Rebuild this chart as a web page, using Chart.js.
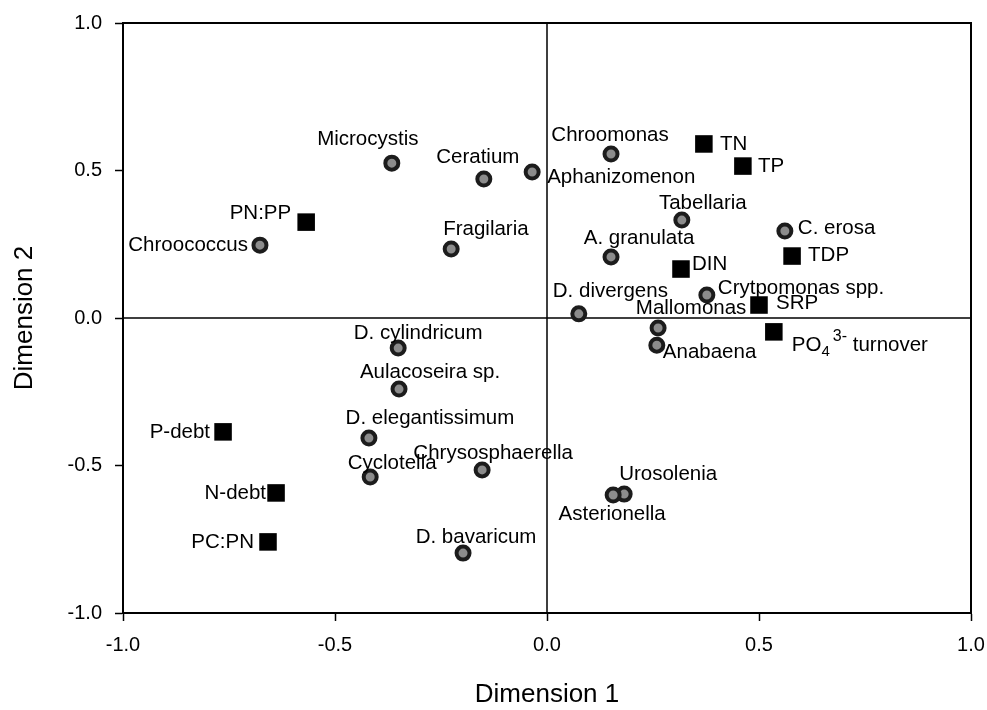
<!DOCTYPE html>
<html>
<head>
<meta charset="utf-8">
<title>Dimension 1 vs Dimension 2</title>
<script src="https://cdn.jsdelivr.net/npm/chart.js@4.4.1/dist/chart.umd.min.js"></script>
<style>
  body { margin: 0; background: #fff; }
  canvas { display: block; }
</style>
</head>
<body>
<canvas id="ordination" width="987" height="710"></canvas>
<script>
// taxa (grey circles)
const taxaNames = ['Microcystis', 'Ceratium', 'Aphanizomenon', 'Chroococcus', 'Fragilaria',
  'Chroomonas', 'Tabellaria', 'C. erosa', 'A. granulata', 'Crytpomonas spp.', 'D. divergens',
  'Mallomonas', 'Anabaena', 'D. cylindricum', 'Aulacoseira sp.', 'D. elegantissimum',
  'Cyclotella', 'Chrysosphaerella', 'D. bavaricum', 'Urosolenia', 'Asterionella'];
const taxaX = [-0.366, -0.149, -0.035, -0.677, -0.226, 0.151, 0.318, 0.561, 0.151, 0.377, 0.075,
  0.262, 0.259, -0.351, -0.349, -0.420, -0.417, -0.153, -0.198, 0.182, 0.156];
const taxaY = [0.525, 0.471, 0.495, 0.247, 0.234, 0.556, 0.332, 0.295, 0.207, 0.078, 0.014,
  -0.034, -0.092, -0.102, -0.241, -0.407, -0.539, -0.515, -0.797, -0.597, -0.600];

// environmental variables (black squares)
// "_x" = subscript, "^xx" = superscript
const envNames = ['TN', 'TP', 'PN:PP', 'TDP', 'DIN', 'SRP', 'PO_4^3- turnover', 'P-debt', 'N-debt', 'PC:PN'];
const envX = [0.370, 0.462, -0.568, 0.578, 0.316, 0.500, 0.535, -0.764, -0.639, -0.658];
const envY = [0.590, 0.515, 0.325, 0.210, 0.166, 0.044, -0.047, -0.386, -0.593, -0.759];

const axisTicks = [-1.0, -0.5, 0.0, 0.5, 1.0];

// where each label sits relative to its marker: [dx, dy, align]
const taxaLabelPos = [[-24, -24, 'center'], [-6, -22, 'center'], [15, 5, 'left'], [-12, 0, 'right'],
  [-8, -20, 'left'], [-1, -19, 'center'], [21, -17, 'center'], [13, -3, 'left'], [28, -19, 'center'],
  [11, -7, 'left'], [-26, -23, 'left'], [33, -20, 'center'], [6, 7, 'left'], [20, -15, 'center'],
  [31, -17, 'center'], [61, -20, 'center'], [22, -14, 'center'], [11, -17, 'center'],
  [13, -16, 'center'], [44, -20, 'center'], [-1, 19, 'center']];
const envLabelPos = [[16, 0, 'left'], [15, 0, 'left'], [-15, -9, 'right'], [16, -1, 'left'],
  [11, -5, 'left'], [17, -2, 'left'], [18, 13, 'left'], [-13, 0, 'right'], [-10, 0, 'right'],
  [-14, 0, 'right']];

const FONT = "'Liberation Sans', Arial, Helvetica, sans-serif";
Chart.defaults.font.family = FONT;
Chart.defaults.color = '#000';

// draws text, with simple sub/superscript support
function drawLabel(ctx, text, x, y, align) {
  const parts = [];
  const re = /_(\S)|\^(\S+)/g;
  let last = 0, m;
  while ((m = re.exec(text)) !== null) {
    if (m.index > last) parts.push({ t: text.slice(last, m.index), kind: 0 });
    if (m[1]) parts.push({ t: m[1], kind: 1 });
    else parts.push({ t: m[2], kind: -1 });
    last = re.lastIndex;
  }
  if (last < text.length) parts.push({ t: text.slice(last), kind: 0 });

  ctx.textBaseline = 'middle';
  if (parts.length === 1) {
    ctx.font = '20.5px ' + FONT;
    ctx.textAlign = align;
    ctx.fillText(text, x, y);
    return;
  }
  ctx.textAlign = 'left';
  let cx = x;
  parts.forEach(p => {
    if (p.kind === 0) {
      ctx.font = '20.5px ' + FONT;
      ctx.fillText(p.t, cx, y);
    } else if (p.kind === 1) {
      ctx.font = '15px ' + FONT;
      ctx.fillText(p.t, cx, y + 7);
    } else {
      cx += 3;
      ctx.font = '16px ' + FONT;
      ctx.fillText(p.t, cx, y - 8);
    }
    cx += ctx.measureText(p.t).width;
  });
}

const framePlugin = {
  id: 'frame',
  beforeDatasetsDraw(chart) {
    const { ctx, chartArea: a, scales } = chart;
    const x0 = scales.x.getPixelForValue(0);
    const y0 = scales.y.getPixelForValue(0);
    ctx.save();
    ctx.strokeStyle = '#000';
    ctx.lineWidth = 1.5;
    ctx.beginPath();
    ctx.moveTo(x0, a.top);
    ctx.lineTo(x0, a.bottom);
    ctx.moveTo(a.left, y0);
    ctx.lineTo(a.right, y0);
    ctx.stroke();
    ctx.lineWidth = 2;
    ctx.strokeRect(a.left, a.top, a.right - a.left, a.bottom - a.top);
    ctx.restore();
  }
};

const labelPlugin = {
  id: 'pointLabels',
  afterDatasetsDraw(chart) {
    const ctx = chart.ctx;
    ctx.save();
    ctx.fillStyle = '#000';
    chart.data.datasets.forEach((ds, di) => {
      const meta = chart.getDatasetMeta(di);
      meta.data.forEach((pt, i) => {
        const [dx, dy, align] = ds.labelPos[i];
        drawLabel(ctx, ds.names[i], pt.x + dx, pt.y + dy, align);
      });
    });
    ctx.restore();
  }
};

function axisOptions(title, isX) {
  return {
    type: 'linear',
    min: -1,
    max: 1,
    afterBuildTicks: s => { s.ticks = axisTicks.map(v => ({ value: v })); },
    afterFit: s => {
      if (isX) s.height = 97; else s.width = 123;
      // let the layout padding alone decide the plot edges
      s.paddingLeft = 0; s.paddingRight = 0;
      s.paddingTop = 0; s.paddingBottom = 0;
    },
    ticks: {
      callback: v => v.toFixed(1),
      font: { size: 20 },
      color: '#000',
      padding: isX ? 12 : 13,
      maxRotation: 0
    },
    grid: {
      drawOnChartArea: false,
      drawTicks: true,
      tickLength: 8,
      tickColor: '#000',
      tickWidth: 1.5
    },
    border: { display: true, color: '#000', width: 2 },
    title: {
      display: true,
      text: title,
      font: { size: 26 },
      color: '#000',
      padding: isX ? { top: 0, bottom: 0 } : { top: 9, bottom: 0 }
    }
  };
}

new Chart(document.getElementById('ordination'), {
  type: 'scatter',
  data: {
    datasets: [
      {
        label: 'Environment',
        names: envNames,
        labelPos: envLabelPos,
        data: envX.map((x, i) => ({ x: x, y: envY[i] })),
        pointStyle: 'rect',
        pointRadius: 12.4,
        backgroundColor: '#000',
        borderWidth: 0
      },
      {
        label: 'Taxa',
        names: taxaNames,
        labelPos: taxaLabelPos,
        data: taxaX.map((x, i) => ({ x: x, y: taxaY[i] })),
        pointStyle: 'circle',
        pointRadius: 6.5,
        backgroundColor: '#8c8c8c',
        borderColor: '#1c1c1c',
        borderWidth: 4
      }
    ]
  },
  options: {
    responsive: false,
    animation: false,
    layout: { padding: { top: 23, right: 16, bottom: 0, left: 0 } },
    plugins: {
      legend: { display: false },
      tooltip: { enabled: false }
    },
    scales: {
      x: axisOptions('Dimension 1', true),
      y: axisOptions('Dimension 2', false)
    }
  },
  plugins: [framePlugin, labelPlugin]
});
</script>
</body>
</html>
